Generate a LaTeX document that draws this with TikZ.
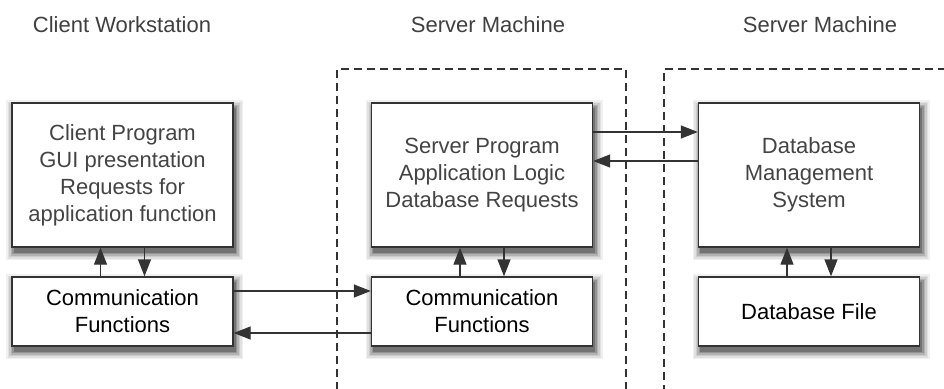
\documentclass[tikz,border=0pt]{standalone}
\usepackage{fontspec}
\setmainfont{Liberation Sans}
\usetikzlibrary{arrows.meta,backgrounds}

\definecolor{boxtext}{HTML}{444444}
\definecolor{linegray}{HTML}{333333}

\tikzset{
  tier/.style={font=\fontsize{22}{27}\selectfont, text=black!75},
  progbox/.style={draw=linegray, line width=1.4pt, fill=white, minimum width=221pt, minimum height=144pt,
    align=center, font=\fontsize{22}{27}\selectfont, text=boxtext},
  commbox/.style={progbox, minimum height=69pt, text=black},
  link/.style={line width=1.4pt, draw=linegray, -{Triangle[length=17pt,width=13pt]}},
  machine/.style={line width=1.3pt, draw=linegray, dash pattern=on 8pt off 5pt}
}

\begin{document}
\begin{tikzpicture}[x=1pt, y=-1pt]
  \useasboundingbox (0,0) rectangle (944,388);

  % machine borders
  \draw[machine] (337,390) -- (337,69) -- (626,69) -- (626,390);
  \draw[machine] (946,69) -- (664,69) -- (664,390);

  % headings
  \node[tier] (hclient) at (122,25) {Client Workstation};
  \node[tier] (hserver) at (488,25) {Server Machine};
  \node[tier] (hdb) at (820,25) {Server Machine};

  % boxes
  \node[progbox] (cprog) at (122.5,175) {Client Program\\GUI presentation\\Requests for\\application function};
  \node[commbox] (ccomm) at (122.5,311.5) {Communication\\Functions};

  \node[progbox] (sprog) at (482,175) {Server Program\\Application Logic\\Database Requests};
  \node[commbox] (scomm) at (482,311.5) {Communication\\Functions};

  \node[progbox] (dbms) at (809,175) {Database\\Management\\System};
  \node[commbox] (dbfile) at (809,311.5) {Database File};

  % soft shadows behind the boxes (centre x / centre y / half height)
  \begin{scope}[on background layer]
    \foreach \cx/\cy/\hh in {122.5/175/72, 122.5/311.5/34.5, 482/175/72, 482/311.5/34.5, 809/175/72, 809/311.5/34.5}
      \foreach \r/\c in {8/6,6.5/12,5/20,3.5/30,2/42,0.5/55}
        \fill[black!\c] (\cx-108.5-\r, \cy-\hh+5-\r) rectangle (\cx+112.5+\r, \cy+\hh+5+\r);
  \end{scope}

  % vertical links
  \draw[link] ([xshift=-22pt]ccomm.north) -- ([xshift=-22pt]cprog.south);
  \draw[link] ([xshift=22pt]cprog.south) -- ([xshift=22pt]ccomm.north);
  \draw[link] ([xshift=-22pt]scomm.north) -- ([xshift=-22pt]sprog.south);
  \draw[link] ([xshift=22pt]sprog.south) -- ([xshift=22pt]scomm.north);
  \draw[link] ([xshift=-22pt]dbfile.north) -- ([xshift=-22pt]dbms.south);
  \draw[link] ([xshift=22pt]dbms.south) -- ([xshift=22pt]dbfile.north);

  % horizontal links
  \draw[link] ([yshift=20.5pt]ccomm.east) -- ([yshift=20.5pt]scomm.west);
  \draw[link] ([yshift=-21.5pt]scomm.west) -- ([yshift=-21.5pt]ccomm.east);
  \draw[link] ([yshift=43pt]sprog.east) -- ([yshift=43pt]dbms.west);
  \draw[link] ([yshift=14pt]dbms.west) -- ([yshift=14pt]sprog.east);
\end{tikzpicture}
\end{document}
